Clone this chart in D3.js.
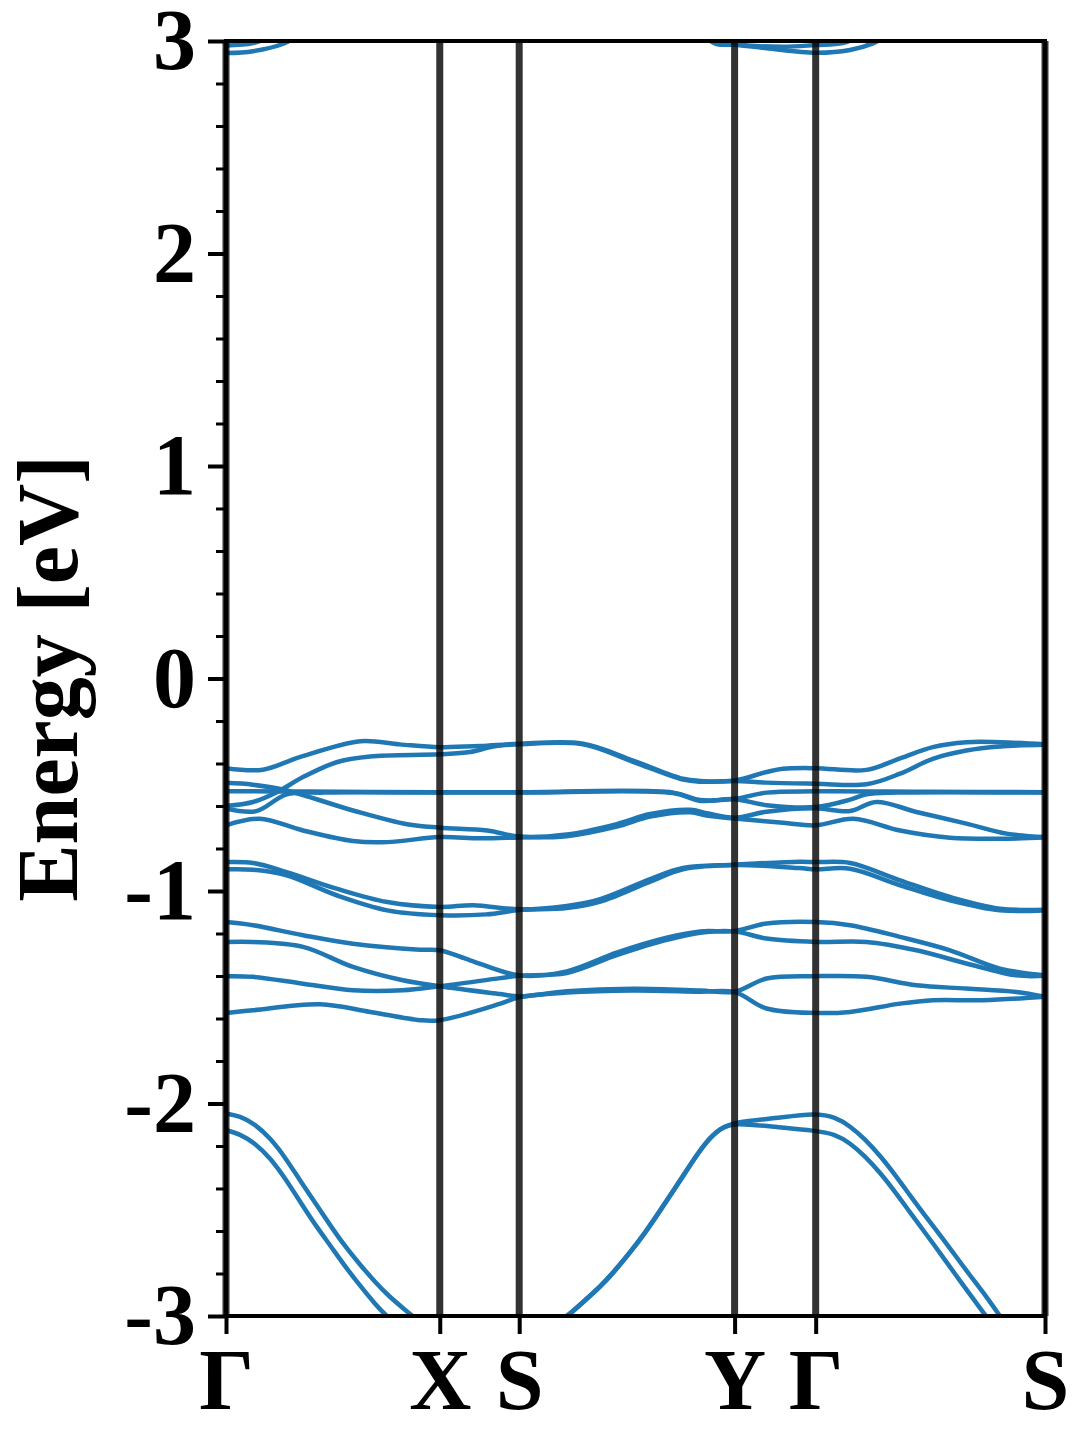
<!DOCTYPE html>
<html>
<head>
<meta charset="utf-8">
<script src="https://cdn.jsdelivr.net/npm/d3@7"></script>
<style>
  body { margin: 0; background: #fff; }
  text { font-family: "Liberation Serif", "Times New Roman", serif; font-weight: bold; }
</style>
</head>
<body>
<div id="chart"></div>
<script>
// k-path (fraction of total path length) and labels
const kTicks = [0, 0.261, 0.358, 0.621, 0.720, 1.0];
const kLabels = ["Γ", "X", "S", "Y", "Γ", "S"];
const yTicks = [-3, -2, -1, 0, 1, 2, 3];

// bands as [k, energy in eV]
const conductionBands = [
  [[0,2.943],[0.033,2.952],[0.07,2.987],[0.1,3.05],[0.261,3.3],[0.358,3.35],[0.57,3.05],[0.599,2.986],[0.621,2.982],[0.66,2.966],[0.72,2.945],[0.762,2.958],[0.79,2.989],[0.82,3.05],[1,3.3]],
  [[0,2.979],[0.033,2.99],[0.06,3.03],[0.261,3.35],[0.358,3.4],[0.58,3.03],[0.621,2.986],[0.68,2.973],[0.72,2.981],[0.753,2.99],[0.78,3.03],[1,3.35]]
];

const upperValence = [
  [[0,-0.422],[0.045,-0.429],[0.09,-0.37],[0.164,-0.295],[0.212,-0.31],[0.261,-0.323],[0.31,-0.318],[0.358,-0.307],[0.436,-0.307],[0.497,-0.386],[0.558,-0.472],[0.579,-0.482],[0.621,-0.48],[0.66,-0.44],[0.68,-0.425],[0.72,-0.422],[0.782,-0.43],[0.823,-0.376],[0.863,-0.323],[0.904,-0.3],[0.945,-0.3],[1,-0.31]],
  [[0,-0.6],[0.033,-0.581],[0.062,-0.535],[0.094,-0.464],[0.135,-0.394],[0.176,-0.367],[0.261,-0.357],[0.298,-0.346],[0.326,-0.32],[0.358,-0.31],[0.436,-0.31],[0.497,-0.392],[0.558,-0.476],[0.579,-0.486],[0.621,-0.482],[0.66,-0.49],[0.72,-0.495],[0.782,-0.498],[0.823,-0.448],[0.863,-0.378],[0.904,-0.339],[0.945,-0.32],[1,-0.312]],
  [[0,-0.491],[0.033,-0.5],[0.074,-0.527],[0.155,-0.621],[0.221,-0.686],[0.261,-0.702],[0.319,-0.715],[0.358,-0.744],[0.416,-0.734],[0.477,-0.685],[0.518,-0.638],[0.567,-0.618],[0.587,-0.634],[0.621,-0.655],[0.66,-0.627],[0.72,-0.611],[0.762,-0.624],[0.794,-0.581],[0.843,-0.628],[0.904,-0.683],[0.953,-0.73],[1,-0.746]],
  [[0,-0.53],[0.1,-0.532],[0.261,-0.535],[0.358,-0.535],[0.546,-0.537],[0.579,-0.572],[0.621,-0.566],[0.66,-0.537],[0.72,-0.531],[0.86,-0.533],[1,-0.535]],
  [[0,-0.611],[0.037,-0.624],[0.074,-0.545],[0.12,-0.537],[0.261,-0.537],[0.358,-0.537],[0.546,-0.539],[0.579,-0.576],[0.621,-0.568],[0.66,-0.596],[0.72,-0.605],[0.762,-0.57],[0.782,-0.545],[0.82,-0.537],[1,-0.537]],
  [[0,-0.691],[0.041,-0.66],[0.094,-0.715],[0.155,-0.765],[0.197,-0.77],[0.261,-0.746],[0.31,-0.752],[0.358,-0.748],[0.416,-0.742],[0.477,-0.697],[0.518,-0.65],[0.567,-0.63],[0.587,-0.645],[0.621,-0.659],[0.68,-0.679],[0.72,-0.691],[0.766,-0.66],[0.823,-0.715],[0.884,-0.749],[0.945,-0.754],[1,-0.748]]
];

const lowerValence = [
  [[0,-0.864],[0.033,-0.868],[0.074,-0.911],[0.135,-0.989],[0.197,-1.052],[0.261,-1.075],[0.302,-1.067],[0.358,-1.086],[0.416,-1.07],[0.457,-1.038],[0.518,-0.944],[0.558,-0.892],[0.621,-0.876],[0.7,-0.862],[0.72,-0.864],[0.762,-0.868],[0.823,-0.95],[0.884,-1.028],[0.945,-1.083],[1,-1.088]],
  [[0,-0.898],[0.033,-0.9],[0.074,-0.926],[0.135,-1.02],[0.197,-1.091],[0.261,-1.114],[0.318,-1.11],[0.358,-1.09],[0.416,-1.08],[0.457,-1.05],[0.518,-0.956],[0.558,-0.898],[0.621,-0.878],[0.7,-0.892],[0.72,-0.898],[0.762,-0.895],[0.823,-0.973],[0.884,-1.044],[0.945,-1.091],[1,-1.09]],
  [[0,-1.146],[0.033,-1.161],[0.094,-1.208],[0.155,-1.248],[0.237,-1.276],[0.261,-1.279],[0.298,-1.326],[0.358,-1.397],[0.416,-1.378],[0.477,-1.29],[0.538,-1.22],[0.579,-1.19],[0.621,-1.188],[0.66,-1.153],[0.72,-1.146],[0.762,-1.161],[0.823,-1.216],[0.884,-1.279],[0.945,-1.365],[1,-1.397]],
  [[0,-1.401],[0.033,-1.404],[0.094,-1.436],[0.155,-1.467],[0.216,-1.467],[0.261,-1.448],[0.335,-1.41],[0.358,-1.399],[0.416,-1.386],[0.477,-1.302],[0.538,-1.23],[0.579,-1.196],[0.621,-1.19],[0.66,-1.224],[0.72,-1.24],[0.782,-1.24],[0.843,-1.279],[0.904,-1.341],[0.965,-1.397],[1,-1.399]],
  [[0,-1.24],[0.033,-1.24],[0.094,-1.263],[0.155,-1.357],[0.216,-1.42],[0.261,-1.448],[0.335,-1.485],[0.358,-1.496],[0.416,-1.472],[0.497,-1.46],[0.579,-1.468],[0.621,-1.474],[0.66,-1.412],[0.72,-1.401],[0.782,-1.404],[0.843,-1.444],[0.904,-1.459],[0.965,-1.475],[1,-1.498]],
  [[0,-1.574],[0.033,-1.561],[0.115,-1.533],[0.176,-1.569],[0.237,-1.608],[0.261,-1.608],[0.335,-1.53],[0.358,-1.5],[0.416,-1.478],[0.497,-1.468],[0.579,-1.474],[0.621,-1.476],[0.66,-1.553],[0.72,-1.574],[0.762,-1.569],[0.823,-1.53],[0.863,-1.514],[0.924,-1.514],[1,-1.498]]
];

const deepBands = [
  [[0,-2.047],[0.017,-2.059],[0.035,-2.096],[0.054,-2.162],[0.072,-2.252],[0.09,-2.36],[0.109,-2.468],[0.127,-2.572],[0.145,-2.671],[0.164,-2.76],[0.182,-2.84],[0.2,-2.911],[0.219,-2.972],[0.237,-3.029],[0.261,-3.1],[0.358,-3.25],
   [0.402,-3.047],[0.42,-2.991],[0.438,-2.929],[0.457,-2.864],[0.475,-2.788],[0.493,-2.704],[0.512,-2.609],[0.53,-2.506],[0.548,-2.402],[0.567,-2.289],[0.585,-2.186],[0.604,-2.115],[0.621,-2.088],
   [0.67,-2.07],[0.72,-2.044],[0.744,-2.064],[0.762,-2.106],[0.78,-2.167],[0.799,-2.247],[0.817,-2.336],[0.835,-2.431],[0.853,-2.525],[0.872,-2.619],[0.89,-2.713],[0.908,-2.807],[0.927,-2.901],[0.945,-3.0],[0.963,-3.099],[1,-3.3]],
  [[0,-2.125],[0.017,-2.144],[0.035,-2.186],[0.054,-2.256],[0.072,-2.351],[0.09,-2.459],[0.109,-2.572],[0.127,-2.666],[0.145,-2.765],[0.164,-2.859],[0.182,-2.944],[0.2,-3.019],[0.261,-3.2],[0.358,-3.25],
   [0.402,-3.044],[0.42,-2.988],[0.438,-2.926],[0.457,-2.861],[0.475,-2.785],[0.493,-2.701],[0.512,-2.606],[0.53,-2.503],[0.548,-2.399],[0.567,-2.286],[0.585,-2.183],[0.604,-2.113],[0.621,-2.09],
   [0.67,-2.11],[0.72,-2.128],[0.744,-2.144],[0.762,-2.186],[0.78,-2.247],[0.799,-2.327],[0.817,-2.416],[0.835,-2.511],[0.853,-2.605],[0.872,-2.704],[0.89,-2.802],[0.908,-2.896],[0.927,-2.995],[0.945,-3.094],[1,-3.35]]
];

function drawBandStructure() {
    // 1. Dimensions
    let dimensions = {
        width: 1080,
        height: 1440,
        margin: { top: 41, right: 35, bottom: 124, left: 226 },
    };
    dimensions.boundedWidth = dimensions.width - dimensions.margin.left - dimensions.margin.right;
    dimensions.boundedHeight = dimensions.height - dimensions.margin.top - dimensions.margin.bottom;

    // 2. Canvas
    const wrapper = d3.select("#chart")
        .append("svg")
        .attr("width", dimensions.width)
        .attr("height", dimensions.height)
        .style("background", "#fff");

    const bounds = wrapper.append("g")
        .attr("transform", `translate(${dimensions.margin.left}, ${dimensions.margin.top})`);

    bounds.append("defs").append("clipPath")
        .attr("id", "bounds-clip")
        .append("rect")
        .attr("width", dimensions.boundedWidth)
        .attr("height", dimensions.boundedHeight);

    // 3. Scales
    const xScale = d3.scaleLinear()
        .domain([0, 1])
        .range([0, dimensions.boundedWidth]);

    const yScale = d3.scaleLinear()
        .domain([-3, 3])
        .range([dimensions.boundedHeight, 0]);

    // 4. Bands
    const lineGenerator = d3.line()
        .x(d => xScale(d[0]))
        .y(d => yScale(d[1]))
        .curve(d3.curveCatmullRom.alpha(0.5));

    // the deep bands are sampled densely, a basis spline smooths the reading noise
    const smoothLine = d3.line()
        .x(d => xScale(d[0]))
        .y(d => yScale(d[1]))
        .curve(d3.curveBasis);

    const bandGroup = bounds.append("g")
        .attr("clip-path", "url(#bounds-clip)");

    bandGroup.selectAll(".band")
        .data([...conductionBands, ...upperValence, ...lowerValence])
        .enter().append("path")
        .attr("class", "band")
        .attr("d", lineGenerator)
        .attr("fill", "none")
        .attr("stroke", "#1f77b4")
        .attr("stroke-width", 4.5)
        .attr("stroke-linejoin", "round");

    bandGroup.selectAll(".deep-band")
        .data(deepBands)
        .enter().append("path")
        .attr("class", "deep-band")
        .attr("d", smoothLine)
        .attr("fill", "none")
        .attr("stroke", "#1f77b4")
        .attr("stroke-width", 4.5)
        .attr("stroke-linejoin", "round");

    // high-symmetry lines
    bounds.selectAll(".kline")
        .data(kTicks)
        .enter().append("line")
        .attr("class", "kline")
        .attr("x1", d => xScale(d))
        .attr("x2", d => xScale(d))
        .attr("y1", 0)
        .attr("y2", dimensions.boundedHeight)
        .attr("stroke", "#000")
        .attr("stroke-opacity", 0.8)
        .attr("stroke-width", 7);

    // 5. Axes
    const minorTicks = d3.range(-30, 31, 2).map(v => v / 10).filter(v => !yTicks.includes(v));

    const yMinor = bounds.append("g")
        .call(d3.axisLeft(yScale).tickValues(minorTicks).tickSize(10).tickFormat(""));
    yMinor.select(".domain").remove();
    yMinor.selectAll("line").attr("stroke-width", 3);

    const yAxis = bounds.append("g")
        .call(d3.axisLeft(yScale).tickValues(yTicks).tickSize(18).tickPadding(12).tickFormat(d => String(d)));
    yAxis.select(".domain").remove();
    yAxis.selectAll("line").attr("stroke-width", 4);
    yAxis.selectAll("text")
        .attr("fill", "#000")
        .style("font-size", "86px")
        .style("font-family", "'Liberation Serif', serif")
        .style("font-weight", "bold");

    const xAxis = bounds.append("g")
        .attr("transform", `translate(0, ${dimensions.boundedHeight})`)
        .call(d3.axisBottom(xScale).tickValues(kTicks).tickSize(18).tickPadding(14).tickFormat((d, i) => kLabels[i]));
    xAxis.select(".domain").remove();
    xAxis.selectAll("line").attr("stroke-width", 4);
    xAxis.selectAll("text")
        .attr("fill", "#000")
        .style("font-size", "86px")
        .style("font-family", "'Liberation Serif', serif")
        .style("font-weight", "bold");

    // spines
    bounds.append("rect")
        .attr("width", dimensions.boundedWidth)
        .attr("height", dimensions.boundedHeight)
        .attr("fill", "none")
        .attr("stroke", "#000")
        .attr("stroke-width", 4);

    // axis label
    wrapper.append("text")
        .attr("transform", `translate(77, ${dimensions.margin.top + yScale(0)}) rotate(-90)`)
        .attr("text-anchor", "middle")
        .attr("fill", "#000")
        .style("font-size", "86px")
        .text("Energy [eV]");
}

drawBandStructure();
</script>
</body>
</html>
